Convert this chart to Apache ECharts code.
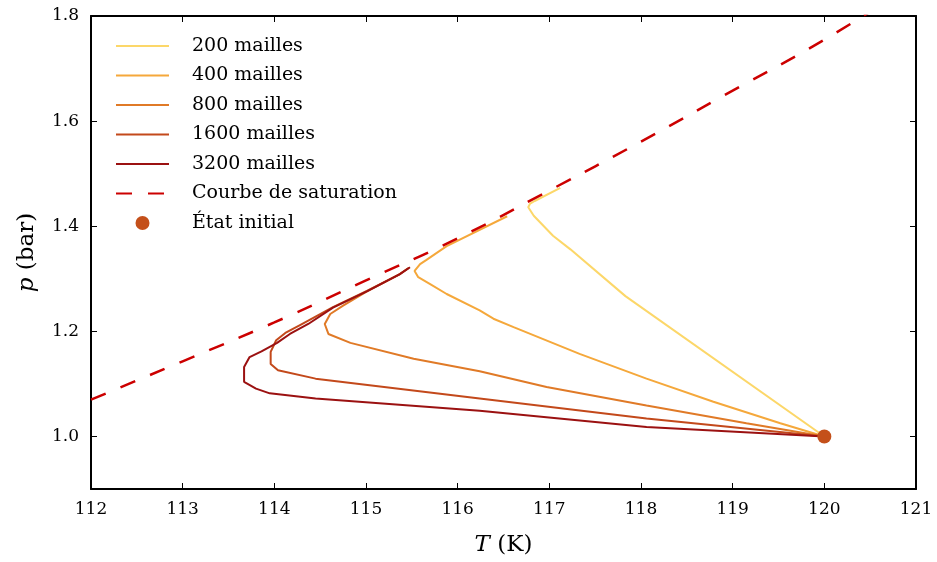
<!DOCTYPE html>
<html>
<head>
<meta charset="utf-8">
<script src="https://cdn.jsdelivr.net/npm/echarts@6/dist/echarts.min.js"></script>
<style>html,body{margin:0;padding:0;background:#fff}#c{width:937px;height:562px}</style>
</head>
<body>
<div id="c"></div>
<script>
// ---- data (T in K, p in bar) ----
const xTicks = [112,113,114,115,116,117,118,119,120,121];
const yTicks = [1.0,1.2,1.4,1.6,1.8];
const seriesNames = ["200 mailles","400 mailles","800 mailles","1600 mailles","3200 mailles","Courbe de saturation","État initial"];

const m200 = [[120,1.0],[117.83,1.267],[117.23,1.356],[117.04,1.382],[116.83,1.420],[116.77,1.436],[116.79,1.443],[116.84,1.448],[117.12,1.473]];
const m400 = [[120,1.0],[119.52,1.025],[118.79,1.066],[118.06,1.110],[117.33,1.157],[116.61,1.208],[116.39,1.224],[116.24,1.240],[115.88,1.271],[115.70,1.290],[115.57,1.303],[115.53,1.315],[115.59,1.328],[115.66,1.336],[115.88,1.362],[116.54,1.419]];
const m800 = [[120,1.0],[119.15,1.025],[118.06,1.059],[116.97,1.094],[116.24,1.124],[115.52,1.148],[114.83,1.178],[114.59,1.195],[114.55,1.214],[114.61,1.233],[114.75,1.249],[115.01,1.276],[115.37,1.309],[115.47,1.321]];
const m1600 = [[120,1.0],[118.06,1.034],[116.24,1.072],[114.45,1.110],[114.04,1.126],[113.96,1.138],[113.96,1.161],[114.02,1.183],[114.12,1.197],[114.28,1.212],[114.64,1.246],[115.01,1.277],[115.37,1.309],[115.46,1.320]];
const m3200 = [[120,1.0],[118.06,1.018],[116.24,1.049],[114.45,1.072],[113.95,1.082],[113.80,1.091],[113.67,1.104],[113.67,1.132],[113.73,1.151],[113.86,1.162],[114.03,1.178],[114.17,1.195],[114.37,1.214],[114.64,1.245],[115.01,1.276],[115.37,1.309],[115.48,1.322]];
const satT = [112,113,114,115,116,117,118,119,120,121];
const satP = [1.070,1.143,1.217,1.297,1.377,1.468,1.561,1.658,1.755,1.864];
const initial = [[120,1.0]];

const colors = ["#fcd769","#f5a83b","#e07a27","#c3491b","#9b1111","#cc0000","#c4501a"];
const serif = "DejaVu Serif";

function lineSeries(name, data, color){
  return {name:name, type:'line', data:data, showSymbol:false, symbol:'none',
    lineStyle:{color:color, width:2}, itemStyle:{color:color}, clip:true, z:2};
}

const chart = echarts.init(document.getElementById('c'), null, {renderer:'canvas'});
const tickStyle = {show:true, inside:true, length:6, lineStyle:{color:'#000', width:1}};
const axisLineStyle = {show:true, lineStyle:{color:'#000', width:2}};
const legendData = seriesNames.map((n, i) => i < 6 ? {name:n, itemStyle:{opacity:0}} : {name:n, itemStyle:{opacity:1}});
const nameStyle = {fontFamily:serif, fontSize:23, color:'#000', rich:{i:{fontFamily:serif, fontStyle:'italic', fontSize:23, color:'#000'}}};
chart.setOption({
  animation:false,
  backgroundColor:'#fff',
  grid:{left:91, right:21, top:16, bottom:71, containLabel:false},
  legend:{
    orient:'vertical', left:110, top:31, itemWidth:53, itemHeight:14, itemGap:9.5,
    data:legendData,
    textStyle:{fontFamily:serif, fontSize:19, color:'#000', lineHeight:20, padding:[0,0,0,18]},
  },
  xAxis:[
    {type:'value', min:112, max:121, interval:1, position:'bottom',
      axisLine:axisLineStyle, axisTick:tickStyle, splitLine:{show:false},
      axisLabel:{fontFamily:serif, fontSize:17, color:'#000', margin:12},
      name:'{i|T} (K)', nameLocation:'middle', nameGap:45, nameTextStyle:nameStyle},
    {type:'value', min:112, max:121, interval:1, position:'top',
      axisLine:axisLineStyle, axisTick:tickStyle, splitLine:{show:false}, axisLabel:{show:false}}
  ],
  yAxis:[
    {type:'value', min:0.9, max:1.8, position:'left',
      axisLine:axisLineStyle, splitLine:{show:false},
      axisTick:Object.assign({customValues:yTicks}, tickStyle),
      axisLabel:{customValues:yTicks, fontFamily:serif, fontSize:17, color:'#000', margin:12, formatter:v=>v.toFixed(1)},
      name:'{i|p} (bar)', nameLocation:'middle', nameGap:52, nameRotate:90, nameTextStyle:nameStyle},
    {type:'value', min:0.9, max:1.8, position:'right',
      axisLine:axisLineStyle, splitLine:{show:false},
      axisTick:Object.assign({customValues:yTicks}, tickStyle), axisLabel:{show:false}}
  ],
  series:[
    lineSeries(seriesNames[0], m200, colors[0]),
    lineSeries(seriesNames[1], m400, colors[1]),
    lineSeries(seriesNames[2], m800, colors[2]),
    lineSeries(seriesNames[3], m1600, colors[3]),
    lineSeries(seriesNames[4], m3200, colors[4]),
    {name:seriesNames[5], type:'line', data:satT.map((t,i)=>[t,satP[i]]), showSymbol:false, symbol:'none', smooth:true,
      lineStyle:{color:colors[5], width:2.5, type:[16,16]}, itemStyle:{color:colors[5]}, z:3},
    {name:seriesNames[6], type:'scatter', data:initial, symbolSize:14, itemStyle:{color:colors[6], opacity:1}, z:4}
  ]
});
</script>
</body>
</html>
